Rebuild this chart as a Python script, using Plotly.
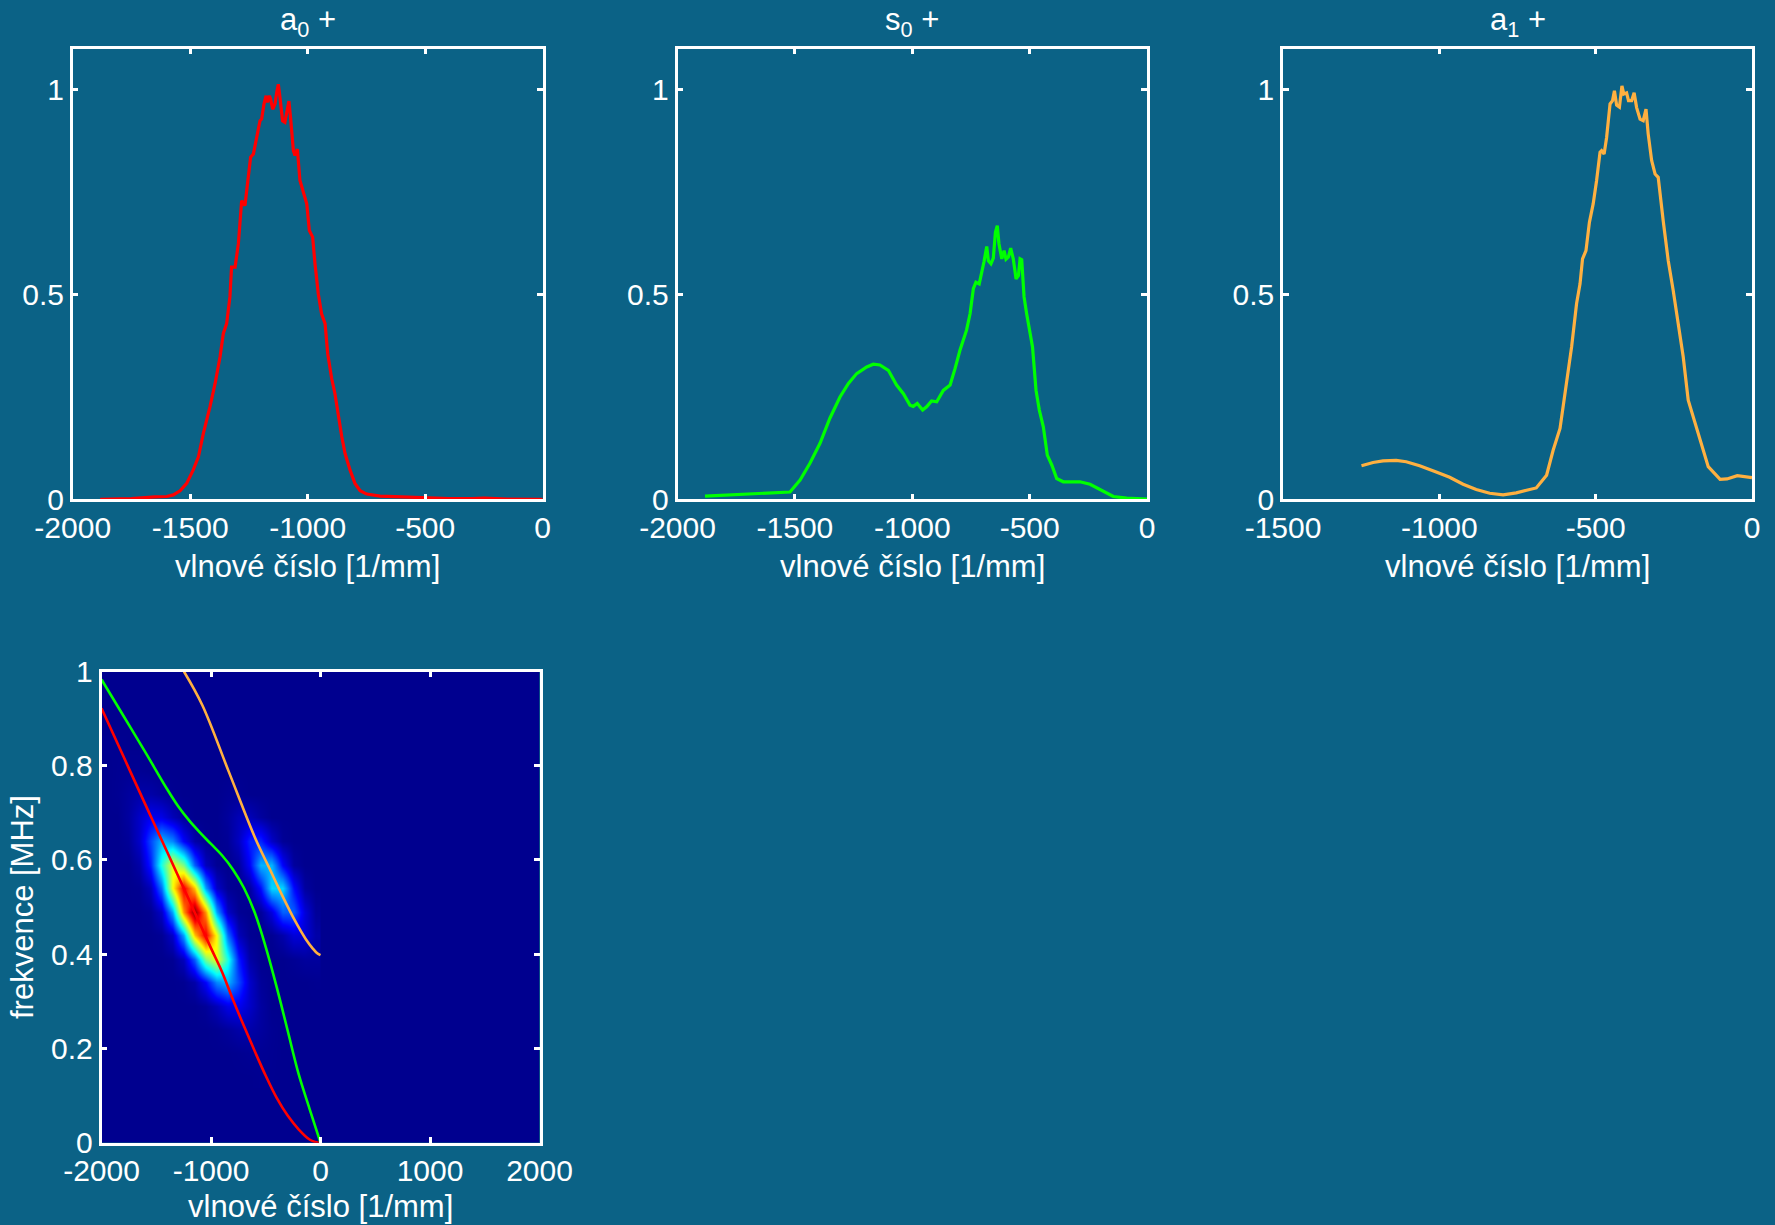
import plotly.graph_objects as go

# ---------------- data ----------------
# panel 1: a0 +
k_a0 = [-1883, -1750, -1650, -1600, -1572, -1543, -1515, -1487, -1465, -1444, -1416, -1394, -1373, -1359, -1345,
        -1331, -1324, -1309, -1295, -1281, -1267, -1253, -1243, -1231, -1217, -1203, -1196, -1186, -1177, -1172,
        -1163, -1158, -1149, -1139, -1132, -1125, -1118, -1107, -1097, -1087, -1080, -1073, -1061, -1054, -1044,
        -1033, -1016, -1004, -993, -979, -969, -955, -941, -926, -915, -898, -884, -870, -855, -841,
        -820, -799, -777, -749, -692, -600, -500, -400, -300, -250, -150, 0]
v_a0 = [0.0, 0.002, 0.006, 0.007, 0.011, 0.021, 0.039, 0.072, 0.104, 0.161, 0.226, 0.283, 0.348, 0.405, 0.429,
        0.494, 0.567, 0.567, 0.624, 0.729, 0.717, 0.778, 0.835, 0.843, 0.883, 0.924, 0.928, 0.965, 0.985, 0.969,
        0.985, 0.977, 0.952, 0.965, 0.993, 1.013, 0.981, 0.924, 0.920, 0.956, 0.972, 0.932, 0.851, 0.839, 0.855,
        0.778, 0.745, 0.721, 0.656, 0.640, 0.575, 0.502, 0.453, 0.429, 0.356, 0.295, 0.258, 0.201, 0.153, 0.112,
        0.072, 0.039, 0.021, 0.013, 0.008, 0.006, 0.004, 0.002, 0.002, 0.003, 0.001, 0.0]

# panel 2: s0 +
k_s0 = [-1883, -1620, -1521, -1478, -1436, -1393, -1351, -1308, -1272, -1237, -1194, -1166, -1138, -1102, -1067,
        -1038, -1010, -996, -979, -956, -939, -918, -896, -868, -839, -818, -797, -769, -754, -740,
        -729, -715, -705, -695, -683, -676, -665, -655, -646, -638, -631, -619, -609, -601, -591,
        -581, -570, -558, -548, -541, -534, -524, -513, -502, -488, -473, -459, -442, -425, -406,
        -385, -357, -286, -243, -201, -144, -87, -37, 0]
v_s0 = [0.008, 0.016, 0.018, 0.047, 0.088, 0.137, 0.198, 0.250, 0.283, 0.307, 0.323, 0.330, 0.328, 0.315, 0.279,
        0.258, 0.230, 0.227, 0.234, 0.218, 0.226, 0.240, 0.238, 0.266, 0.279, 0.319, 0.364, 0.413, 0.453, 0.514,
        0.530, 0.526, 0.551, 0.579, 0.617, 0.582, 0.575, 0.589, 0.652, 0.668, 0.624, 0.587, 0.607, 0.586, 0.591,
        0.613, 0.587, 0.538, 0.546, 0.587, 0.585, 0.494, 0.453, 0.413, 0.372, 0.266, 0.218, 0.177, 0.108, 0.084,
        0.051, 0.043, 0.043, 0.037, 0.025, 0.007, 0.003, 0.002, 0.001]

# panel 3: a1 +
k_a1 = [-1249, -1212, -1180, -1138, -1106, -1063, -1010, -967, -924, -882, -839, -796, -754, -716, -690,
        -657, -636, -614, -593, -577, -561, -550, -542, -531, -520, -508, -497, -486, -481, -473,
        -465, -454, -446, -440, -433, -424, -416, -410, -401, -395, -385, -377, -369, -358, -348,
        -339, -332, -321, -310, -300, -284, -268, -252, -236, -220, -204, -182, -161, -140, -102,
        -80, -47, -20, 0]
v_a1 = [0.082, 0.090, 0.094, 0.095, 0.092, 0.082, 0.067, 0.054, 0.037, 0.024, 0.015, 0.011, 0.016, 0.024, 0.028,
        0.059, 0.120, 0.173, 0.291, 0.372, 0.478, 0.526, 0.587, 0.607, 0.676, 0.721, 0.778, 0.847, 0.851, 0.843,
        0.883, 0.965, 0.973, 0.997, 0.962, 0.957, 1.009, 0.989, 0.992, 0.973, 0.973, 0.992, 0.956, 0.928, 0.924,
        0.952, 0.892, 0.827, 0.794, 0.786, 0.680, 0.583, 0.510, 0.429, 0.348, 0.242, 0.185, 0.128, 0.080, 0.049,
        0.050, 0.058, 0.056, 0.053]

# panel 4: dispersion curves (wavenumber [1/mm], frequency [MHz])
disp_a0_k = [-2000, -1800, -1600, -1400, -1200, -1000, -900, -800, -700, -600, -500, -400, -300, -200, -100, -50, 0]
disp_a0_f = [0.922, 0.820, 0.718, 0.617, 0.515, 0.413, 0.363, 0.304, 0.248, 0.194, 0.142, 0.095, 0.0575, 0.0285,
             0.0068, 0.0017, 0.0]
disp_s0_k = [-2000, -1800, -1600, -1400, -1300, -1200, -1100, -1000, -900, -800, -700, -600, -500, -400, -300,
             -200, -100, 0]
disp_s0_f = [0.983, 0.906, 0.829, 0.750, 0.714, 0.684, 0.658, 0.634, 0.610, 0.580, 0.541, 0.488, 0.415, 0.330,
             0.238, 0.146, 0.072, 0.0]
disp_a1_k = [-1247, -1080, -837, -594, -470, -350, -228, -137, -70, -30, 0]
disp_a1_f = [1.0, 0.929, 0.787, 0.645, 0.584, 0.525, 0.469, 0.433, 0.412, 0.402, 0.398]

# panel 4: spectrogram magnitude (normalised), estimated on a coarse grid
spec_k = [-1950, -1850, -1750, -1650, -1550, -1450, -1350, -1250, -1150, -1050,
          -950, -850, -750, -650, -550, -450, -350, -250, -150, -50]
spec_f = [0.14, 0.19, 0.24, 0.29, 0.34, 0.39, 0.44, 0.49, 0.54, 0.59, 0.64, 0.69, 0.74, 0.79, 0.84]
spec_z = [
    [0, 0, 0, 0, 0, 0, 0, 0, 0, 0, 0, 0, 0, 0, 0.002, 0.002, 0, 0, 0, 0],
    [0, 0, 0, 0, 0, 0, 0, 0, 0, 0, 0, 0, 0.002, 0.005, 0.005, 0.003, 0, 0, 0, 0],
    [0, 0, 0, 0, 0, 0, 0, 0, 0, 0, 0.003, 0.012, 0.025, 0.026, 0.015, 0.004, 0, 0, 0, 0],
    [0, 0, 0, 0, 0, 0, 0, 0, 0, 0.010, 0.041, 0.087, 0.097, 0.057, 0.018, 0, 0, 0, 0, 0],
    [0, 0, 0, 0, 0, 0, 0, 0.003, 0.026, 0.110, 0.246, 0.292, 0.181, 0.059, 0.010, 0, 0, 0, 0, 0.002],
    [0, 0, 0, 0, 0, 0, 0.005, 0.046, 0.206, 0.488, 0.607, 0.396, 0.137, 0.025, 0, 0, 0, 0.006, 0.014, 0.014],
    [0, 0, 0, 0, 0, 0.006, 0.058, 0.273, 0.679, 0.891, 0.613, 0.222, 0.042, 0.004, 0, 0.004, 0.028, 0.074, 0.071, 0.025],
    [0, 0, 0, 0, 0.006, 0.056, 0.277, 0.725, 1.0, 0.725, 0.277, 0.056, 0.006, 0, 0.011, 0.078, 0.207, 0.204, 0.075, 0.010],
    [0, 0, 0, 0.004, 0.042, 0.222, 0.613, 0.891, 0.679, 0.273, 0.058, 0.006, 0, 0.017, 0.121, 0.327, 0.327, 0.121, 0.017, 0],
    [0, 0, 0, 0.025, 0.137, 0.396, 0.607, 0.488, 0.206, 0.046, 0.005, 0, 0.015, 0.107, 0.290, 0.293, 0.109, 0.015, 0, 0],
    [0, 0, 0.010, 0.059, 0.181, 0.292, 0.246, 0.110, 0.026, 0.003, 0, 0.007, 0.051, 0.143, 0.147, 0.056, 0.008, 0, 0, 0],
    [0, 0, 0.018, 0.057, 0.097, 0.087, 0.041, 0.010, 0, 0, 0, 0.014, 0.040, 0.041, 0.016, 0, 0, 0, 0, 0],
    [0, 0.004, 0.015, 0.026, 0.025, 0.012, 0.003, 0, 0, 0, 0, 0.006, 0.006, 0, 0, 0, 0, 0, 0, 0],
    [0, 0.003, 0.005, 0.005, 0.002, 0, 0, 0, 0, 0, 0, 0, 0, 0, 0, 0, 0, 0, 0, 0],
    [0.002, 0.002, 0, 0, 0, 0, 0, 0, 0, 0, 0, 0, 0, 0, 0, 0, 0, 0, 0, 0],
]

titles = ["a<sub>0</sub> +", "s<sub>0</sub> +", "a<sub>1</sub> +"]
x_label = "vlnové číslo [1/mm]"
y_label = "frekvence [MHz]"

# ---------------- styling ----------------
BG = "#0B6286"
RED = "#FF0000"
GREEN = "#00FF00"
ORANGE = "#FFB040"
FONT = "Liberation Sans, Arial, Helvetica, sans-serif"
FS = 31
FS_TICK = 30
W, H = 1775, 1225

jet = [[0.0, "rgb(0,0,143)"], [0.111, "rgb(0,0,255)"], [0.365, "rgb(0,255,255)"],
       [0.619, "rgb(255,255,0)"], [0.873, "rgb(255,0,0)"], [1.0, "rgb(128,0,0)"]]

# panel pixel boxes (left, right, top, bottom)
boxes = [(72.7, 542.7, 48.6, 499.4), (677.5, 1147.1, 48.6, 499.4), (1283.0, 1752.0, 48.6, 499.4),
         (101.5, 539.5, 671.5, 1142.7)]


def dom(b):
    l, r, t, btm = b
    return [l / W, r / W], [1 - btm / H, 1 - t / H]


fig = go.Figure()

line_w = 3.2
fig.add_trace(go.Scatter(x=k_a0, y=v_a0, mode="lines", line=dict(color=RED, width=line_w),
                         xaxis="x", yaxis="y", showlegend=False))
fig.add_trace(go.Scatter(x=k_s0, y=v_s0, mode="lines", line=dict(color=GREEN, width=line_w),
                         xaxis="x2", yaxis="y2", showlegend=False))
fig.add_trace(go.Scatter(x=k_a1, y=v_a1, mode="lines", line=dict(color=ORANGE, width=line_w),
                         xaxis="x3", yaxis="y3", showlegend=False))

fig.add_trace(go.Heatmap(x=spec_k, y=spec_f, z=spec_z, colorscale=jet, zmin=0, zmax=1,
                         zsmooth="best", showscale=False, xaxis="x4", yaxis="y4", hoverinfo="skip"))
fig.add_trace(go.Scatter(x=disp_a0_k, y=disp_a0_f, mode="lines", line=dict(color=RED, width=2.6, shape="spline"),
                         xaxis="x4", yaxis="y4", showlegend=False))
fig.add_trace(go.Scatter(x=disp_s0_k, y=disp_s0_f, mode="lines", line=dict(color=GREEN, width=2.6, shape="spline"),
                         xaxis="x4", yaxis="y4", showlegend=False))
fig.add_trace(go.Scatter(x=disp_a1_k, y=disp_a1_f, mode="lines", line=dict(color=ORANGE, width=2.6, shape="spline"),
                         xaxis="x4", yaxis="y4", showlegend=False))

common = dict(showline=True, linecolor="white", linewidth=2.5, mirror="allticks", ticks="inside",
              ticklen=6, tickwidth=2.5, tickcolor="white", showgrid=False, zeroline=False,
              automargin=False, tickfont=dict(color="white", size=FS_TICK, family=FONT))

layout = dict(template="none", width=W, height=H, paper_bgcolor=BG, plot_bgcolor=BG, autosize=False,
              margin=dict(l=0, r=0, t=0, b=0, pad=0, autoexpand=False), showlegend=False,
              font=dict(family=FONT, color="white", size=FS))

xr = [[-2000, 0], [-2000, 0], [-1500, 0]]
xt = [[-2000, -1500, -1000, -500, 0], [-2000, -1500, -1000, -500, 0], [-1500, -1000, -500, 0]]
annotations = []
for i in range(3):
    xd, yd = dom(boxes[i])
    sx = "" if i == 0 else str(i + 1)
    layout["xaxis" + sx] = dict(common, domain=xd, range=xr[i], tickvals=xt[i],
                                ticktext=[str(v) for v in xt[i]], anchor="y" + sx)
    layout["yaxis" + sx] = dict(common, domain=yd, range=[0, 1.1], tickvals=[0, 0.5, 1],
                                ticktext=["0", "0.5", "1"], anchor="x" + sx)
    cx = (boxes[i][0] + boxes[i][1]) / 2 / W
    annotations.append(dict(text=titles[i], x=cx, y=1 - 22 / H, xref="paper", yref="paper",
                            showarrow=False, xanchor="center", yanchor="middle",
                            font=dict(color="white", size=FS, family=FONT)))
    annotations.append(dict(text=x_label, x=cx, y=1 - 566 / H, xref="paper", yref="paper",
                            showarrow=False, xanchor="center", yanchor="middle",
                            font=dict(color="white", size=FS, family=FONT)))

xd, yd = dom(boxes[3])
layout["xaxis4"] = dict(common, domain=xd, range=[-2000, 2000], tickvals=[-2000, -1000, 0, 1000, 2000],
                        ticktext=["-2000", "-1000", "0", "1000", "2000"], anchor="y4")
layout["yaxis4"] = dict(common, domain=yd, range=[0, 1], tickvals=[0, 0.2, 0.4, 0.6, 0.8, 1],
                        ticktext=["0", "0.2", "0.4", "0.6", "0.8", "1"], anchor="x4")
cx = (boxes[3][0] + boxes[3][1]) / 2 / W
annotations.append(dict(text=x_label, x=cx, y=1 - 1206 / H, xref="paper", yref="paper",
                        showarrow=False, xanchor="center", yanchor="middle",
                        font=dict(color="white", size=FS, family=FONT)))
annotations.append(dict(text=y_label, x=22 / W, y=1 - 907 / H, xref="paper", yref="paper",
                        showarrow=False, xanchor="center", yanchor="middle", textangle=-90,
                        font=dict(color="white", size=FS, family=FONT)))
layout["annotations"] = annotations
layout["shapes"] = [dict(type="rect", xref="x4", yref="y4", x0=-2000, x1=2000, y0=0, y1=1,
                         fillcolor="#00008F", line=dict(width=0), layer="below")]

fig.update_layout(**layout)
fig.write_html("out.html", config={"displayModeBar": False},
               post_script="document.body.style.margin='0';document.body.style.background='#0B6286';")
